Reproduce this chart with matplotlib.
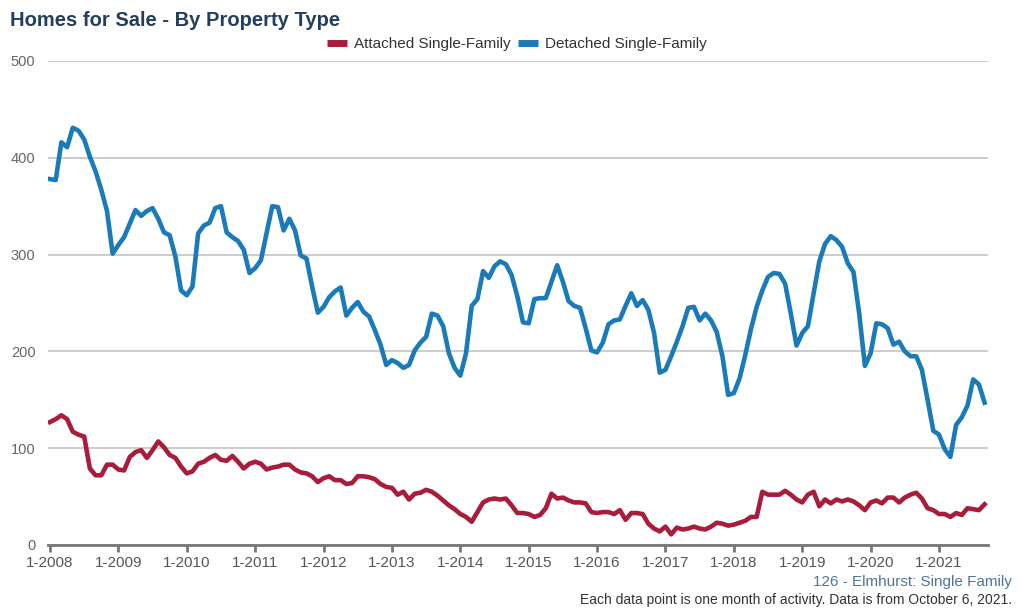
import matplotlib
matplotlib.use('Agg')
import matplotlib.pyplot as plt
from matplotlib.lines import Line2D

plt.rcParams['font.family'] = ['Liberation Sans', 'DejaVu Sans']

# monthly values, 1-2008 .. 9-2021
detached = [378, 377, 416, 411, 431, 428, 419, 401, 386, 367, 345, 301,
            310, 318, 332, 346, 340, 345, 348, 337, 323, 320, 298, 263,
            258, 267, 322, 330, 333, 348, 350, 323, 318, 314, 305, 281,
            286, 294, 322, 350, 349, 325, 337, 325, 299, 296, 267, 240,
            246, 256, 262, 266, 237, 245, 251, 241, 236, 222, 207, 186,
            191, 188, 183, 186, 201, 209, 215, 239, 237, 226, 198, 183,
            175, 198, 247, 254, 283, 276, 288, 293, 290, 279, 257, 230,
            229, 254, 255, 255, 272, 289, 272, 252, 247, 245, 224, 201,
            199, 209, 228, 232, 233, 247, 260, 247, 253, 243, 219, 178,
            181, 195, 210, 226, 245, 246, 232, 239, 232, 220, 195, 155,
            157, 172, 196, 223, 246, 263, 277, 281, 280, 270, 239, 206,
            219, 226, 260, 293, 311, 319, 315, 308, 291, 282, 239, 185,
            198, 229, 228, 224, 207, 210, 200, 195, 195, 181, 150, 118,
            114, 99, 91, 124, 132, 144, 171, 166, 147]

attached = [127, 130, 134, 130, 117, 114, 112, 79, 72, 72, 83, 83,
            78, 77, 91, 96, 98, 90, 98, 107, 101, 93, 90, 81,
            74, 76, 84, 86, 90, 93, 88, 87, 92, 86, 79, 84,
            86, 84, 78, 80, 81, 83, 83, 78, 75, 74, 71, 65,
            69, 71, 67, 67, 63, 64, 71, 71, 70, 68, 63, 60,
            59, 52, 55, 47, 53, 54, 57, 55, 51, 46, 41, 37,
            32, 29, 24, 34, 44, 47, 48, 47, 48, 41, 33, 33,
            32, 29, 31, 38, 53, 48, 49, 46, 44, 44, 43, 34,
            33, 34, 34, 32, 36, 26, 33, 33, 32, 22, 17, 14,
            19, 11, 18, 16, 17, 19, 17, 16, 19, 23, 22, 20,
            21, 23, 25, 29, 29, 55, 52, 52, 52, 56, 52, 47,
            44, 52, 55, 40, 47, 43, 47, 45, 47, 45, 41, 36,
            44, 46, 43, 49, 49, 44, 49, 52, 54, 48, 38, 36,
            32, 32, 29, 33, 31, 38, 37, 36, 42]

years = list(range(2008, 2022))
tick_labels = ['1-%d' % y for y in years]
months = list(range(len(detached)))

red = '#a81c3c'
blue = '#1b7ab8'
grey = '#555555'

fig = plt.figure(figsize=(10.22, 6.13), dpi=100)
ax = fig.add_axes([48 / 1022, 1 - 545 / 613, 940 / 1022, 484 / 613])

ax.plot(months, attached, color=red, lw=3.3, solid_joinstyle='round', zorder=3)
ax.plot(months, detached, color=blue, lw=3.3, solid_joinstyle='round', zorder=3)

ax.set_xlim(-0.35, 164.6)
ax.set_ylim(0, 500)
ax.set_yticks([0, 100, 200, 300, 400, 500])
ax.set_xticks([12 * k for k in range(len(years))])
ax.set_xticklabels(tick_labels)

ax.grid(axis='y', color='#c4c4c4', lw=1.2)
ax.set_axisbelow(True)
for s in ['top', 'right', 'left']:
    ax.spines[s].set_visible(False)
ax.spines['bottom'].set_color('#777777')
ax.spines['bottom'].set_linewidth(2)
ax.spines['bottom'].set_zorder(4)
ax.tick_params(axis='x', colors='#777777', length=5, width=2, labelcolor=grey,
               labelsize=11, pad=3)
ax.tick_params(axis='y', length=0, labelcolor='#666666', labelsize=10.5, pad=9)

fig.text(10 / 1022, 1 - 20 / 613, 'Homes for Sale - By Property Type', fontsize=14.5,
         fontweight='bold', color='#233f5e', va='center', ha='left')

handles = [Line2D([], [], color=red, lw=5, solid_capstyle='butt'),
           Line2D([], [], color=blue, lw=5, solid_capstyle='butt')]
fig.legend(handles, ['Attached Single-Family', 'Detached Single-Family'],
           loc='center', bbox_to_anchor=(517 / 1022, 1 - 44 / 613), ncol=2,
           frameon=False, fontsize=11, handlelength=1.3, handletextpad=0.5,
           columnspacing=0.45, labelcolor='#333333')

fig.text(1012 / 1022, 1 - 582 / 613, '126 - Elmhurst: Single Family', fontsize=11,
         color='#4f72a0', ha='right', va='center')
fig.text(1012 / 1022, 1 - 600 / 613,
         'Each data point is one month of activity. Data is from October 6, 2021.',
         fontsize=10, color='#333333', ha='right', va='center')

fig.savefig('out.png', dpi=100)
